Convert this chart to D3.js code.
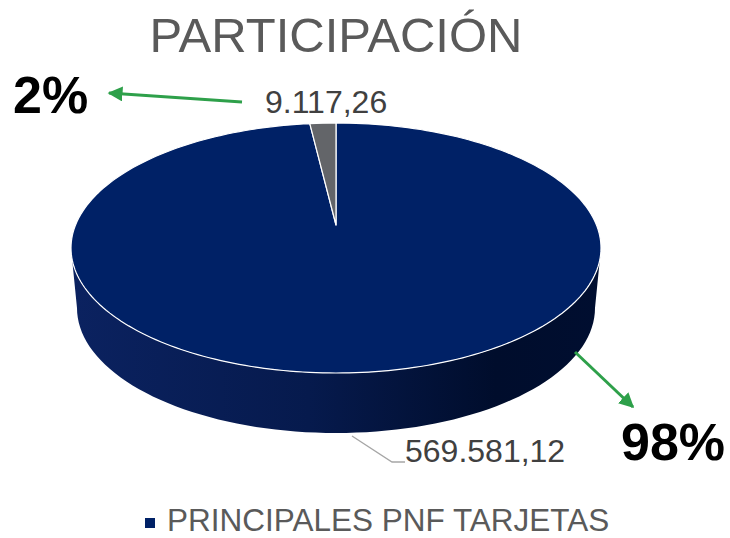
<!DOCTYPE html>
<html>
<head>
<meta charset="utf-8">
<script src="https://cdn.jsdelivr.net/npm/d3@7"></script>
<style>
  body { margin: 0; background: #fff; }
  text { font-family: Arial, "Liberation Sans", sans-serif; }
</style>
</head>
<body>
<script>
"use strict";

const categories = ["PRINCIPALES PNF TARJETAS", "OTROS"];
const values = [569581.12, 9117.26];
const colors = ["#002166", "#636569"];
const title = "PARTICIPACIÓN";

const m = { width: 730, height: 538 };
const cx = 336, cy = 248, rx = 265, ry = 125, depth = 60, shrink = 6;
const apex = [336, 225];

const locale = d3.formatLocale({ decimal: ",", thousands: ".", grouping: [3], currency: ["", ""] });
const fmt = locale.format(",.2f");
const pct = d3.format(".0%");
const total = d3.sum(values);

const svg = d3.select("body").append("svg")
  .attr("width", m.width)
  .attr("height", m.height);

const defs = svg.append("defs");
const grad = defs.append("linearGradient").attr("id", "side")
  .attr("x1", "0%").attr("x2", "100%").attr("y1", "0%").attr("y2", "0%");
grad.append("stop").attr("offset", "0%").attr("stop-color", "#0b2260");
grad.append("stop").attr("offset", "45%").attr("stop-color", "#061a4d");
grad.append("stop").attr("offset", "80%").attr("stop-color", "#000d2c");
grad.append("stop").attr("offset", "100%").attr("stop-color", "#000e30");

const mk = defs.append("marker").attr("id", "arrow")
  .attr("viewBox", "0 0 10 10").attr("refX", 9).attr("refY", 5)
  .attr("markerWidth", 5).attr("markerHeight", 5)
  .attr("orient", "auto-start-reverse")
  .attr("markerUnits", "strokeWidth");
mk.append("path").attr("d", "M0,0L10,5L0,10z").attr("fill", "#2ea04a");

// title
svg.append("text")
  .attr("x", 336).attr("y", 52)
  .attr("text-anchor", "middle")
  .attr("font-size", 49)
  .attr("fill", "#5a5a5a")
  .text(title);

const pie = d3.pie().sort(null).value(d => d);
const arcs = pie(values);

function rim(a, dy, r) {
  return [cx + r * Math.sin(a), cy - ry * Math.cos(a) + dy];
}
const line = d3.line();

// side walls (front half only)
const sides = svg.append("g");
arcs.forEach((d, i) => {
  const s = Math.max(d.startAngle, Math.PI / 2);
  const e = Math.min(d.endAngle, Math.PI * 3 / 2);
  if (e <= s) return;
  const n = 80;
  const topPts = d3.range(n + 1).map(k => rim(s + (e - s) * k / n, 0, rx));
  const botPts = d3.range(n + 1).map(k => rim(e - (e - s) * k / n, depth, rx - shrink));
  sides.append("path")
    .attr("d", line(topPts.concat(botPts)) + "Z")
    .attr("fill", i === 0 ? "url(#side)" : d3.color(colors[i]).darker(1.2));
});

// top faces
const tops = svg.append("g");
tops.selectAll("path")
  .data(arcs)
  .enter()
  .append("path")
  .attr("d", d => {
    const n = Math.max(4, Math.ceil((d.endAngle - d.startAngle) * 40));
    const pts = d3.range(n + 1).map(k => rim(d.startAngle + (d.endAngle - d.startAngle) * k / n, 0, rx));
    return line([apex].concat(pts)) + "Z";
  })
  .attr("fill", (d, i) => colors[i])
  .attr("stroke", "#ffffff")
  .attr("stroke-width", 1.2)
  .attr("stroke-linejoin", "round");

// value labels
const lab = svg.append("g").attr("fill", "#404040").attr("font-size", 32);
lab.append("path")
  .attr("d", line([[352, 436], [392, 462], [405, 462]]))
  .attr("fill", "none").attr("stroke", "#a6a6a6").attr("stroke-width", 1.3);
lab.append("text").attr("x", 405).attr("y", 462).text(fmt(values[0]));
lab.append("text").attr("x", 265).attr("y", 113).text(fmt(values[1]));

// percentage call-outs
const pc = svg.append("g").attr("font-size", 52).attr("font-weight", "bold").attr("fill", "#000");
pc.append("text").attr("x", 13).attr("y", 113).text(pct(values[1] / total));
pc.append("text").attr("x", 621).attr("y", 460).text(pct(values[0] / total));

const arrows = [
  [[242, 102], [109, 93]],
  [[575, 352], [633, 407]]
];
svg.append("g").selectAll("path")
  .data(arrows)
  .enter()
  .append("path")
  .attr("d", d => line(d))
  .attr("stroke", "#2ea04a")
  .attr("stroke-width", 3)
  .attr("fill", "none")
  .attr("marker-end", "url(#arrow)");

// legend
const lg = svg.append("g");
lg.append("rect").attr("x", 145).attr("y", 518).attr("width", 10).attr("height", 10).attr("fill", colors[0]);
lg.append("text").attr("x", 167).attr("y", 531).attr("font-size", 31.5).attr("fill", "#5a5a5a").text(categories[0]);
</script>
</body>
</html>
